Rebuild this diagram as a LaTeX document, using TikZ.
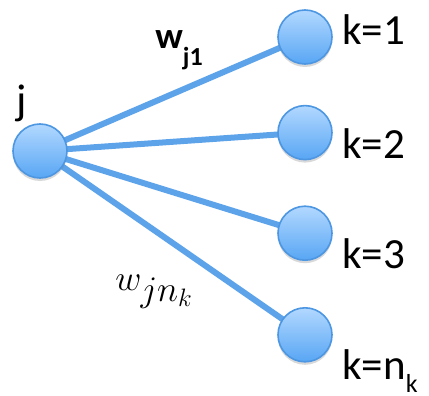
\documentclass[tikz,border=0pt]{standalone}
\usepackage{fix-cm}
\usepackage{fontspec}
\setmainfont{Carlito}
\usetikzlibrary{positioning,shadows,backgrounds}
\definecolor{edgeblue}{RGB}{93,163,234}
\definecolor{balltop}{RGB}{178,216,255}
\definecolor{ballbot}{RGB}{88,166,244}
\definecolor{ballrim}{RGB}{76,150,226}

\begin{document}
\begin{tikzpicture}[x=0.5pt, y=-0.5pt,
    unit/.style={circle, minimum size=27pt, inner sep=0pt, draw=ballrim, line width=0.8pt,
        top color=balltop, bottom color=ballbot,
        drop shadow={shadow xshift=0pt, shadow yshift=-1.5pt, opacity=0.3}},
    link/.style={draw=edgeblue, line width=3pt},
    klab/.style={font=\fontsize{21.5}{24}\selectfont, inner sep=0pt, anchor=base west}]
    \useasboundingbox (0,0) rectangle (429,396);
    \node[unit] (j) at (40,151) {};
    \node[unit] (k1) at (305,37) {};
    \node[unit, below=20pt of k1] (k2) {};
    \node[unit, below=22.5pt of k2] (k3) {};
    \node[unit, below=23pt of k3] (k4) {};
    \begin{scope}[on background layer]
        \foreach \k in {k1,k2,k3,k4}
            \draw[link] (j.center) -- (\k.center);
    \end{scope}
    \node[klab] (jl) at (16,114) {j};
    \node[klab] (l1) at (342,45) {k=1};
    \node[klab] (l2) at (342,158) {k=2};
    \node[klab] (l3) at (342,268) {k=3};
    \node[klab] (l4) at (342,379) {k=n\raisebox{-6.5pt}{\fontsize{13}{14}\selectfont k}};
    \node[anchor=base west, inner sep=0pt, font=\bfseries\fontsize{18.5}{20}\selectfont] (wj1) at (155,48)
        {w\raisebox{-8.5pt}{\fontsize{13}{14}\selectfont j1}};
    \node[anchor=base west, inner sep=0pt, font=\fontsize{18}{20}\selectfont] (wjn) at (115,290)
        {$w_{\textstyle jn_{\scriptstyle k}}$};
\end{tikzpicture}
\end{document}
